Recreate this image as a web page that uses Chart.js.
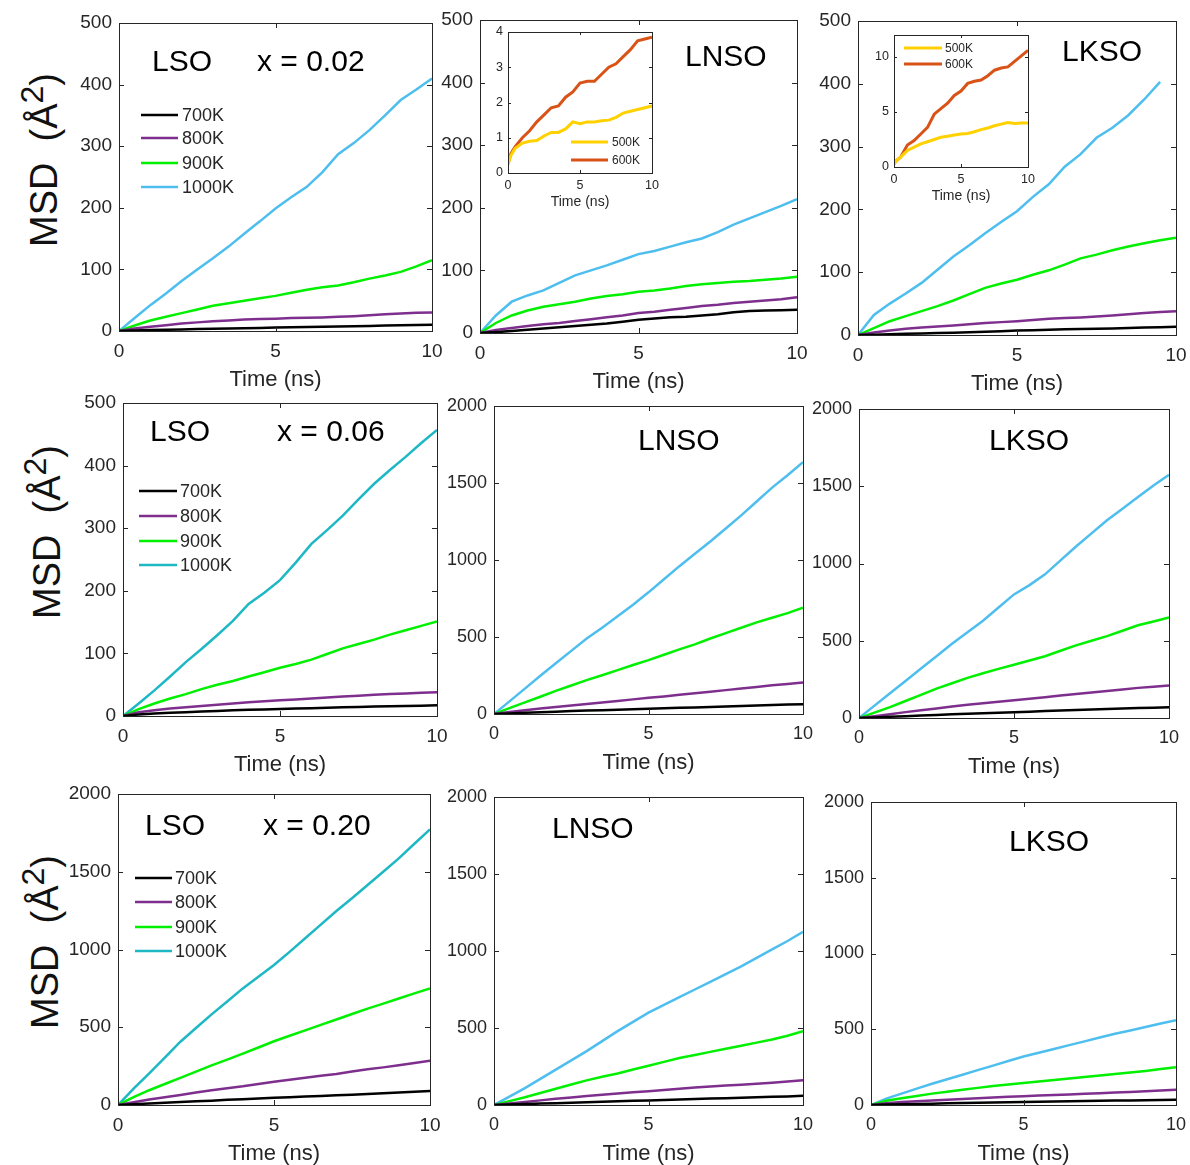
<!DOCTYPE html>
<html>
<head>
<meta charset="utf-8">
<script src="https://cdn.jsdelivr.net/npm/chart.js@4.4.0/dist/chart.umd.min.js"></script>
<style>
  body { margin: 0; background: #fff; width: 1190px; height: 1165px; position: relative; overflow: hidden; font-family: "Liberation Sans", Arial, sans-serif; }
  .box { position: absolute; }
  .ylab { position: absolute; font-size: 38px; color: #111; white-space: nowrap; transform: translate(-50%, -50%) rotate(-90deg); }
  .ylab sup { font-size: 32px; }
</style>
</head>
<body>
<div class="ylab" style="left:40px;top:160px">MSD&nbsp;&nbsp;(Å<sup>2</sup>)</div>
<div class="ylab" style="left:43px;top:532px">MSD&nbsp;&nbsp;(Å<sup>2</sup>)</div>
<div class="ylab" style="left:41px;top:942px">MSD&nbsp;&nbsp;(Å<sup>2</sup>)</div>
<script>
// time axis (ns)
const timeNs = [0, 0.5, 1, 1.5, 2, 2.5, 3, 3.5, 4, 4.5, 5, 5.5, 6, 6.5, 7, 7.5, 8, 8.5, 9, 9.5, 10];
const insetTime = [0, 0.2, 0.5, 1, 1.5, 2, 2.5, 3, 3.5, 4, 4.5, 5, 5.5, 6, 6.5, 7, 7.5, 8, 8.5, 9, 9.5, 10];

const tempLabels = ["700K", "800K", "900K", "1000K"];
const insetLabels = ["500K", "600K"];
const xTicks = [0, 5, 10];
const yTicks500 = [0, 100, 200, 300, 400, 500];
const yTicks2000 = [0, 500, 1000, 1500, 2000];
const yTicksInsetN = [0, 1, 2, 3, 4];
const yTicksInsetK = [0, 5, 10];

// row 1 : x = 0.02
const lso02_700 = [0, 0.8, 1.5, 2, 2.6, 3.1, 3.6, 4.1, 4.6, 5, 5.5, 6, 6.4, 6.8, 7.3, 7.8, 8.3, 8.8, 9.3, 9.8, 10.2];
const lso02_800 = [0, 4, 7, 9.5, 12, 14, 16, 17, 18.5, 19.5, 20, 21, 21.5, 22, 23, 24, 25.5, 27, 28.5, 29.5, 30];
const lso02_900 = [0, 9, 17, 23, 29, 35, 41, 45, 49, 53, 57, 62, 67, 71, 74, 79, 85, 90, 96, 105, 115];
const lso02_1000 = [0, 21, 42, 61, 81, 100, 118, 137, 158, 178, 199, 217, 234, 258, 287, 305, 326, 350, 375, 392, 410];

const lnso02_700 = [0, 1.5, 3, 5, 7, 9, 11, 13, 15, 18, 21, 23, 25, 26, 28, 30, 33, 35, 36, 36.5, 37];
const lnso02_800 = [0, 5, 8, 11, 14, 16, 19, 22, 25, 28, 32, 34, 37, 40, 43, 45, 48, 50, 52, 54, 57];
const lnso02_900 = [0, 16, 28, 36, 42, 46, 50, 55, 59, 62, 66, 68, 71, 75, 78, 80, 82, 83, 85, 87, 90];
const lnso02_1000 = [0, 28, 50, 60, 68, 80, 92, 100, 108, 117, 126, 131, 138, 145, 151, 161, 173, 183, 193, 203, 214];

const lkso02_700 = [0, 0.5, 1, 2, 2.5, 3, 3.5, 4.5, 5, 6, 7, 7.5, 8.5, 9, 9.5, 10, 10.5, 11, 12, 12.5, 13];
const lkso02_800 = [0, 4, 7, 10, 12, 13.5, 15, 17, 19, 20.5, 22, 24, 26, 27, 28, 29.5, 31, 33, 35, 36.5, 38];
const lkso02_900 = [0, 11, 22, 30, 38, 46, 55, 65, 75, 82, 88, 96, 103, 112, 122, 128, 135, 141, 146, 151, 155];
const lkso02_1000 = [0, 32, 50, 66, 83, 104, 125, 143, 162, 180, 197, 220, 240, 268, 288, 314, 330, 350, 375, 403, null];

// insets (low temperature)
const lnsoIn_500 = [0.25, 0.5, 0.7, 0.85, 0.9, 0.92, 1.05, 1.15, 1.15, 1.25, 1.45, 1.4, 1.45, 1.45, 1.48, 1.5, 1.58, 1.7, 1.75, 1.8, 1.85, 1.9];
const lnsoIn_600 = [0.25, 0.55, 0.75, 1.0, 1.2, 1.45, 1.65, 1.85, 1.9, 2.15, 2.3, 2.55, 2.6, 2.6, 2.8, 3.0, 3.1, 3.3, 3.5, 3.75, 3.8, 3.85];
const lksoIn_500 = [0.3, 0.6, 0.9, 1.5, 1.8, 2.1, 2.3, 2.5, 2.7, 2.8, 2.9, 3.0, 3.05, 3.2, 3.4, 3.55, 3.75, 3.9, 4.05, 3.95, 4.0, 4.0];
const lksoIn_600 = [0.3, 0.6, 0.9, 2.0, 2.4, 3.0, 3.6, 4.8, 5.3, 5.8, 6.5, 6.9, 7.6, 7.8, 7.9, 8.3, 8.8, 9.0, 9.1, 9.6, 10.1, 10.6];

// row 2 : x = 0.06
const lso06_700 = [0, 2.5, 4, 5, 6, 7, 8, 9, 10, 10.5, 11, 12, 12.5, 13, 14, 14.5, 15, 15.5, 16, 16.5, 17];
const lso06_800 = [0, 6, 9, 12, 14, 16, 18, 20, 22, 23.5, 25, 26.5, 28, 29.5, 31, 32.5, 34, 35, 36, 37, 38];
const lso06_900 = [0, 11, 20, 28, 35, 43, 50, 56, 63, 70, 77, 83, 90, 99, 108, 115, 122, 130, 137, 144, 151];
const lso06_1000 = [0, 20, 41, 63, 86, 107, 129, 152, 179, 197, 217, 245, 275, 297, 320, 346, 371, 393, 414, 436, 457];

const lnso06_700 = [0, 4, 8, 12, 15, 19, 22, 25, 28, 31, 34, 37, 40, 43, 46, 49, 52, 55, 58, 61, 64];
const lnso06_800 = [0, 13, 25, 35, 45, 55, 65, 75, 85, 95, 105, 114, 125, 135, 145, 155, 165, 175, 186, 195, 205];
const lnso06_900 = [0, 38, 75, 112, 150, 185, 220, 252, 285, 318, 350, 385, 420, 452, 490, 525, 560, 595, 625, 655, 690];
const lnso06_1000 = [0, 82, 165, 248, 330, 410, 490, 560, 635, 710, 790, 875, 960, 1040, 1120, 1205, 1290, 1380, 1470, 1550, 1635];

const lkso06_700 = [0, 4, 8, 12, 16, 20, 24, 27, 31, 34, 38, 41, 45, 48, 52, 55, 58, 61, 64, 67, 70];
const lkso06_800 = [0, 12, 25, 38, 50, 62, 75, 85, 95, 105, 115, 125, 135, 145, 155, 165, 175, 185, 195, 203, 210];
const lkso06_900 = [0, 35, 70, 110, 150, 190, 225, 260, 290, 318, 345, 372, 400, 435, 470, 500, 530, 565, 600, 625, 650];
const lkso06_1000 = [0, 80, 160, 240, 320, 400, 480, 555, 630, 715, 800, 860, 930, 1020, 1110, 1195, 1280, 1355, 1430, 1505, 1575];

// row 3 : x = 0.20
const lso20_700 = [0, 5, 10, 15, 20, 24, 28, 33, 37, 42, 46, 50, 54, 58, 62, 66, 70, 75, 80, 85, 90];
const lso20_800 = [0, 18, 35, 50, 65, 80, 95, 108, 120, 135, 150, 162, 175, 188, 200, 215, 230, 242, 255, 270, 285];
const lso20_900 = [0, 50, 95, 135, 175, 215, 255, 292, 330, 370, 410, 445, 480, 515, 550, 585, 620, 652, 685, 718, 750];
const lso20_1000 = [0, 105, 204, 305, 407, 495, 583, 665, 750, 825, 900, 985, 1072, 1160, 1248, 1330, 1415, 1500, 1586, 1680, 1773];

const lnso20_700 = [0, 3, 6, 9, 12, 15, 18, 21, 24, 27, 30, 33, 36, 39, 42, 44, 47, 50, 53, 56, 60];
const lnso20_800 = [0, 10, 20, 30, 40, 49, 58, 67, 75, 83, 90, 98, 105, 113, 120, 126, 132, 138, 145, 152, 160];
const lnso20_900 = [0, 25, 50, 78, 105, 133, 160, 183, 205, 230, 255, 280, 305, 325, 345, 365, 385, 405, 425, 450, 480];
const lnso20_1000 = [0, 55, 110, 170, 230, 290, 350, 415, 480, 540, 600, 650, 700, 750, 800, 850, 900, 955, 1010, 1065, 1125];

const lkso20_700 = [0, 3, 5, 7, 9, 11, 13, 14.5, 16, 18, 20, 21.5, 23, 24.5, 26, 27.5, 29, 30.5, 32, 33.5, 35];
const lkso20_800 = [0, 12, 20, 25, 30, 35, 40, 45, 50, 54, 58, 62, 66, 70, 74, 78, 82, 86, 90, 95, 100];
const lkso20_900 = [0, 28, 45, 60, 75, 88, 100, 113, 125, 135, 145, 155, 165, 175, 185, 195, 205, 215, 225, 237, 250];
const lkso20_1000 = [0, 42, 75, 108, 140, 170, 200, 230, 260, 290, 320, 345, 370, 395, 420, 445, 470, 492, 515, 538, 560];

const BLACK = "#000000", PURPLE = "#7E2F8E", GREEN = "#00F000", SKY = "#4DBEEE", TEAL = "#1DB8C4";
const YELLOW = "#FFD100", ORANGE = "#D95319";
const AXIS = "#262626";
const FONT = "'Liberation Sans', Arial, sans-serif";

function four(d, hot) {
  return [
    { label: tempLabels[0], data: d[0], color: BLACK },
    { label: tempLabels[1], data: d[1], color: PURPLE },
    { label: tempLabels[2], data: d[2], color: GREEN },
    { label: tempLabels[3], data: d[3], color: hot }
  ];
}

const panels = [
  { box: [119, 23, 432, 331], yMax: 500, yTicks: yTicks500, tick: 19, series: four([lso02_700, lso02_800, lso02_900, lso02_1000], SKY),
    texts: [["LSO", 152, 63], ["x = 0.02", 257, 63]], legend: { x1: 141, x2: 178, tx: 182, ys: [115, 138, 163, 187] } },
  { box: [480, 20, 797, 333], yMax: 500, yTicks: yTicks500, tick: 19, series: four([lnso02_700, lnso02_800, lnso02_900, lnso02_1000], SKY),
    texts: [["LNSO", 685, 58]] },
  { box: [858, 21, 1176, 335], yMax: 500, yTicks: yTicks500, tick: 19, series: four([lkso02_700, lkso02_800, lkso02_900, lkso02_1000], SKY),
    texts: [["LKSO", 1062, 53]] },
  { box: [123, 403, 437, 716], yMax: 500, yTicks: yTicks500, tick: 19, series: four([lso06_700, lso06_800, lso06_900, lso06_1000], TEAL),
    texts: [["LSO", 150, 433], ["x = 0.06", 277, 433]], legend: { x1: 139, x2: 177, tx: 180, ys: [491, 516, 541, 565] } },
  { box: [494, 406, 803, 714], yMax: 2000, yTicks: yTicks2000, tick: 18, series: four([lnso06_700, lnso06_800, lnso06_900, lnso06_1000], SKY),
    texts: [["LNSO", 638, 442]] },
  { box: [859, 409, 1169, 718], yMax: 2000, yTicks: yTicks2000, tick: 18, series: four([lkso06_700, lkso06_800, lkso06_900, lkso06_1000], SKY),
    texts: [["LKSO", 989, 442]] },
  { box: [118, 794, 430, 1105], yMax: 2000, yTicks: yTicks2000, tick: 19, series: four([lso20_700, lso20_800, lso20_900, lso20_1000], TEAL),
    texts: [["LSO", 145, 827], ["x = 0.20", 263, 827]], legend: { x1: 135, x2: 172, tx: 175, ys: [878, 902, 927, 951] } },
  { box: [494, 797, 803, 1105], yMax: 2000, yTicks: yTicks2000, tick: 18, series: four([lnso20_700, lnso20_800, lnso20_900, lnso20_1000], SKY),
    texts: [["LNSO", 552, 830]] },
  { box: [871, 802, 1176, 1105], yMax: 2000, yTicks: yTicks2000, tick: 18, series: four([lkso20_700, lkso20_800, lkso20_900, lkso20_1000], SKY),
    texts: [["LKSO", 1009, 843]] }
];

const insets = [
  { box: [508, 32, 652, 173], yMax: 4, yTicks: yTicksInsetN, time: insetTime,
    series: [{ label: insetLabels[0], data: lnsoIn_500, color: YELLOW }, { label: insetLabels[1], data: lnsoIn_600, color: ORANGE }],
    legend: { x1: 571, x2: 608, tx: 612, ys: [142, 160] } },
  { box: [894, 35, 1028, 167], yMax: 12, yTicks: yTicksInsetK, time: insetTime,
    series: [{ label: insetLabels[0], data: lksoIn_500, color: YELLOW }, { label: insetLabels[1], data: lksoIn_600, color: ORANGE }],
    legend: { x1: 904, x2: 942, tx: 945, ys: [48, 64] } }
];

// box around the plot with inward ticks on all sides, like matlab
const framePlugin = {
  id: "frame",
  afterDraw(chart, args, o) {
    const { ctx, chartArea: a, scales: { x, y } } = chart;
    const len = o.len;
    ctx.save();
    ctx.strokeStyle = AXIS;
    ctx.lineWidth = 1;
    ctx.strokeRect(Math.round(a.left) + 0.5, Math.round(a.top) + 0.5, Math.round(a.right - a.left), Math.round(a.bottom - a.top));
    ctx.beginPath();
    x.ticks.forEach(t => {
      const px = Math.round(x.getPixelForValue(t.value)) + 0.5;
      ctx.moveTo(px, a.bottom); ctx.lineTo(px, a.bottom - len);
      ctx.moveTo(px, a.top); ctx.lineTo(px, a.top + len);
    });
    y.ticks.forEach(t => {
      const py = Math.round(y.getPixelForValue(t.value)) + 0.5;
      ctx.moveTo(a.left, py); ctx.lineTo(a.left + len, py);
      ctx.moveTo(a.right, py); ctx.lineTo(a.right - len, py);
    });
    ctx.stroke();
    ctx.restore();
  }
};

// titles and the hand-placed legend
const notesPlugin = {
  id: "notes",
  afterDraw(chart, args, o) {
    const ctx = chart.ctx;
    ctx.save();
    ctx.textBaseline = "middle";
    ctx.textAlign = "left";
    ctx.fillStyle = "#000";
    ctx.font = o.titleSize + "px " + FONT;
    (o.texts || []).forEach(t => ctx.fillText(t[0], t[1] - o.ox, t[2] - o.oy));
    if (o.legend) {
      const L = o.legend;
      ctx.font = o.legendSize + "px " + FONT;
      chart.data.datasets.forEach((ds, i) => {
        const yy = L.ys[i] - o.oy;
        ctx.strokeStyle = ds.borderColor;
        ctx.lineWidth = ds.borderWidth;
        ctx.beginPath();
        ctx.moveTo(L.x1 - o.ox, yy); ctx.lineTo(L.x2 - o.ox, yy);
        ctx.stroke();
        ctx.fillStyle = AXIS;
        ctx.fillText(ds.label, L.tx - o.ox, yy + 1);
      });
    }
    ctx.restore();
  }
};

function makeChart(p, inset) {
  // padding has to beat the scales' own label padding, or chart.js shrinks the plot
  const padL = inset ? 30 : 60, padT = inset ? 16 : 22, padR = inset ? 16 : 24, padB = inset ? 40 : 66;
  const [l, t, r, b] = p.box;
  const w = r - l + padL + padR, h = b - t + padT + padB;
  const holder = document.createElement("div");
  holder.className = "box";
  holder.style.left = (l - padL) + "px";
  holder.style.top = (t - padT) + "px";
  holder.style.width = w + "px";
  holder.style.height = h + "px";
  if (inset) holder.style.zIndex = 5;
  const canvas = document.createElement("canvas");
  canvas.width = w; canvas.height = h;
  holder.appendChild(canvas);
  document.body.appendChild(holder);

  const time = p.time || timeNs;
  const tickSize = inset ? 12.5 : p.tick;
  const titleSize = inset ? 14 : 22;

  new Chart(canvas, {
    type: "line",
    data: {
      datasets: p.series.map(s => ({
        label: s.label,
        data: time.map((tt, i) => ({ x: tt, y: s.data[i] })),
        borderColor: s.color,
        borderWidth: inset ? 3 : 2.5,
        pointRadius: 0,
        tension: 0,
        fill: false
      }))
    },
    options: {
      responsive: false,
      animation: false,
      devicePixelRatio: 1,
      layout: { padding: { left: 0, top: padT, right: padR, bottom: 0 } },
      plugins: {
        legend: { display: false },
        tooltip: { enabled: false },
        frame: { len: inset ? 3 : 5 },
        notes: { texts: p.texts, legend: p.legend, ox: l - padL, oy: t - padT, titleSize: 30, legendSize: inset ? 12 : 18 }
      },
      scales: {
        x: {
          type: "linear", min: 0, max: 10,
          afterBuildTicks: s => { s.ticks = xTicks.map(v => ({ value: v })); },
          afterFit: s => { s.height = padB; },
          grid: { display: false, drawTicks: false },
          border: { display: false },
          ticks: { font: { family: FONT, size: tickSize }, color: AXIS, padding: inset ? 5 : 9, maxRotation: 0, callback: v => String(v) },
          title: { display: true, text: "Time (ns)", color: AXIS, font: { family: FONT, size: titleSize }, padding: { top: 0, bottom: inset ? 2 : 4 } }
        },
        y: {
          type: "linear", min: 0, max: p.yMax,
          afterBuildTicks: s => { s.ticks = p.yTicks.map(v => ({ value: v })); },
          afterFit: s => { s.width = padL; },
          grid: { display: false, drawTicks: false },
          border: { display: false },
          ticks: { font: { family: FONT, size: tickSize }, color: AXIS, padding: inset ? 5 : 7, callback: v => String(v) }
        }
      }
    },
    plugins: [framePlugin, notesPlugin]
  });
}

panels.forEach(p => makeChart(p, false));
insets.forEach(p => makeChart(p, true));
</script>
</body>
</html>
